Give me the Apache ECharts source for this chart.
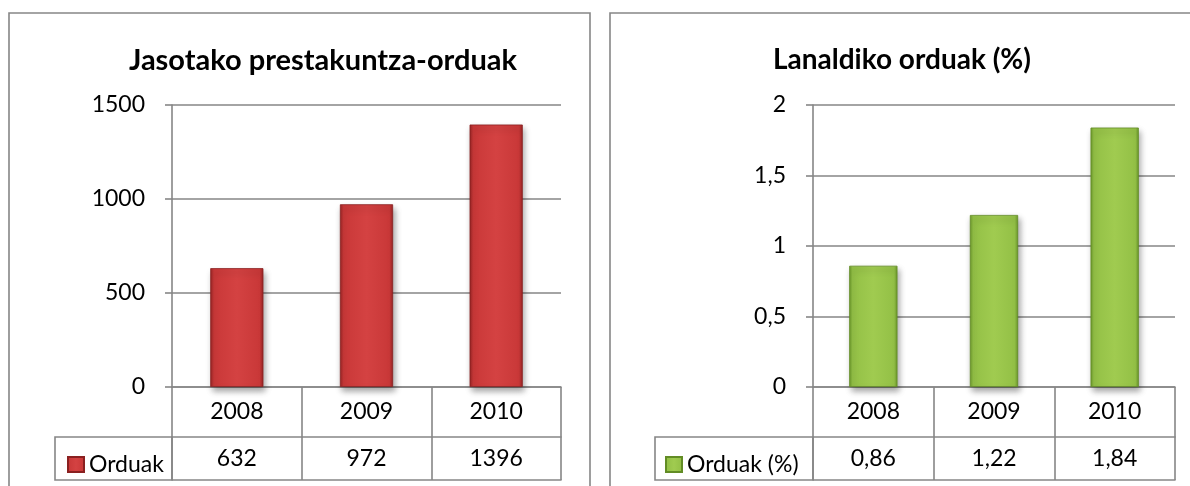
<!DOCTYPE html>
<html>
<head>
<meta charset="utf-8">
<script src="https://cdn.jsdelivr.net/npm/echarts@6/dist/echarts.min.js"></script>
<style>
html,body{margin:0;padding:0;background:#fff;}
#c{width:1190px;height:486px;}
</style>
</head>
<body>
<div id="c"></div>
<script>
const years = ['2008', '2009', '2010'];
const hours = [632, 972, 1396];
const pct = [0.86, 1.22, 1.84];
const titleLeft = 'Jasotako prestakuntza-orduak';
const titleRight = 'Lanaldiko orduak (%)';
const seriesLeft = 'Orduak';
const seriesRight = 'Orduak (%)';

const FONT = 'Lato, "Open Sans", sans-serif';
const GRAY = '#868686';
const fmtComma = v => String(v).replace('.', ',');

const chart = echarts.init(document.getElementById('c'), null, {renderer: 'canvas'});

function barGradient(dark, main, light) {
  return new echarts.graphic.LinearGradient(0, 0, 1, 0, [
    {offset: 0, color: dark},
    {offset: 0.07, color: main},
    {offset: 0.5, color: light},
    {offset: 0.93, color: main},
    {offset: 1, color: dark}
  ]);
}
const redColor = barGradient('#962424', '#c93838', '#d44242');
const greenColor = barGradient('#6a982a', '#93c046', '#a0cb50');

const labelStyle = {color: '#000', fontFamily: FONT, fontSize: 23};

function xAxes(gridIndex, valueLabels) {
  return [
    {
      type: 'category', gridIndex, data: years, position: 'bottom',
      axisLine: {show: true, lineStyle: {color: GRAY, width: 1.6}},
      axisTick: {show: true, interval: 0, length: 93, alignWithLabel: false, lineStyle: {color: GRAY, width: 1.6}},
      axisLabel: Object.assign({margin: 25, verticalAlign: 'middle', interval: 0}, labelStyle)
    },
    {
      type: 'category', gridIndex, data: years, position: 'bottom', offset: 50,
      axisLine: {show: true, lineStyle: {color: GRAY, width: 1.6}},
      axisTick: {show: false},
      axisLabel: Object.assign({margin: 21.5, verticalAlign: 'middle', interval: 0,
        formatter: (v, i) => valueLabels[i]}, labelStyle)
    },
    {
      type: 'category', gridIndex, data: years, position: 'bottom', offset: 93,
      axisLine: {show: true, lineStyle: {color: GRAY, width: 1.6}},
      axisTick: {show: false},
      axisLabel: {show: false}
    }
  ];
}

function yAxis(gridIndex, max, interval, fmt) {
  return {
    type: 'value', gridIndex, min: 0, max, interval,
    axisLine: {show: true, lineStyle: {color: GRAY, width: 1.6}},
    axisTick: {show: true, length: 7, lineStyle: {color: GRAY, width: 1.6}},
    splitLine: {show: true, lineStyle: {color: GRAY, width: 1.6}},
    axisLabel: Object.assign({margin: 27, formatter: fmt}, labelStyle)
  };
}

const barShadow = {shadowColor: 'rgba(0,0,0,0.35)', shadowBlur: 6, shadowOffsetX: 2, shadowOffsetY: 4};

chart.setOption({
  animation: false,
  backgroundColor: '#fff',
  title: [
    {text: titleLeft, left: 318, top: 41, textAlign: 'center',
     textStyle: {fontFamily: FONT, fontWeight: 'bold', fontSize: 29, color: '#000'}},
    {text: titleRight, left: 897, top: 41, textAlign: 'center',
     textStyle: {fontFamily: FONT, fontWeight: 'bold', fontSize: 28, color: '#000'}}
  ],
  legend: [
    {data: [seriesLeft], left: 62, top: 448, itemWidth: 16, itemHeight: 15, icon: 'rect',
     textStyle: labelStyle, selectedMode: false},
    {data: [seriesRight], left: 660, top: 448, itemWidth: 16, itemHeight: 15, icon: 'rect',
     textStyle: labelStyle, selectedMode: false}
  ],
  grid: [
    {left: 172, top: 105, width: 389, height: 282},
    {left: 813, top: 105, width: 362, height: 282}
  ],
  xAxis: [].concat(
    xAxes(0, hours.map(String)),
    xAxes(1, pct.map(v => v.toFixed(2).replace('.', ',')))
  ),
  yAxis: [
    yAxis(0, 1500, 500, v => String(v)),
    yAxis(1, 2, 0.5, v => fmtComma(v))
  ],
  graphic: [
    {type: 'rect', shape: {x: 9, y: 13, width: 581, height: 520}, style: {fill: 'none', stroke: GRAY, lineWidth: 1.6}, z: -1},
    {type: 'rect', shape: {x: 610, y: 13, width: 620, height: 520}, style: {fill: 'none', stroke: GRAY, lineWidth: 1.6}, z: -1},
    {type: 'rect', shape: {x: 55, y: 437, width: 117, height: 43}, style: {fill: 'none', stroke: GRAY, lineWidth: 1.6}},
    {type: 'rect', shape: {x: 655, y: 437, width: 158, height: 43}, style: {fill: 'none', stroke: GRAY, lineWidth: 1.6}}
  ],
  series: [
    {name: seriesLeft, type: 'bar', xAxisIndex: 0, yAxisIndex: 0, data: hours, barWidth: '41%',
     itemStyle: Object.assign({color: redColor, borderColor: '#8a2020', borderWidth: 0.8}, barShadow), z: 1},
    {name: seriesRight, type: 'bar', xAxisIndex: 3, yAxisIndex: 1, data: pct, barWidth: '40%',
     itemStyle: Object.assign({color: greenColor, borderColor: '#628c25', borderWidth: 0.8}, barShadow), z: 1}
  ]
});
</script>
</body>
</html>
